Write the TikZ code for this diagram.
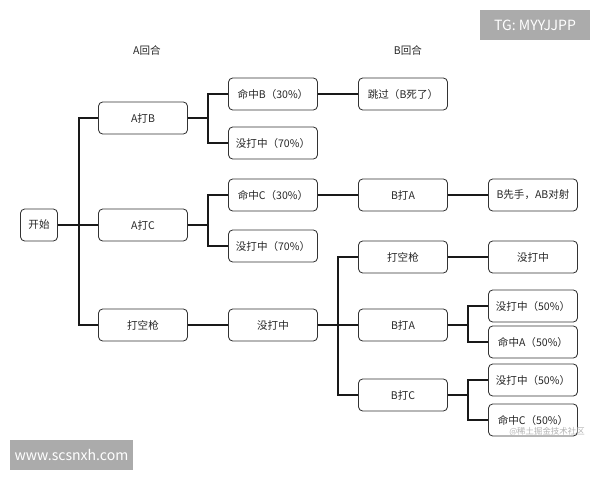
\documentclass[tikz,border=0pt]{standalone}
\usepackage{fontspec}
\setmainfont{Noto Sans CJK SC}
\usepackage{tikz}
\usetikzlibrary{positioning}
\tikzstyle{box}   = [rectangle, draw=black!80, line width=0.6pt, rounded corners=3pt, minimum width=2.225cm, minimum height=0.8cm, inner sep=0pt, text=black!85, font=\fontsize{7.5}{9}\selectfont]
\tikzstyle{link}  = [draw, line width=1.2pt, black!90]
\tikzstyle{round} = [font=\fontsize{7.5}{9}\selectfont, text=black!85]
\tikzstyle{wmbox} = [rectangle, fill=black!33, text=white, inner sep=0pt, font=\fontsize{10}{12}\selectfont]

\begin{document}
\begin{tikzpicture}[x=0.025cm, y=-0.025cm]
    \useasboundingbox (0,0) rectangle (600,480);

    % rounds
    \node[round] (roundA) at (147,50) {A回合};
    \node[round] (roundB) at (408,50) {B回合};

    % A's turn
    \node[box, minimum width=0.925cm] (start) at (39,225) {开始};
    \node[box] (AB)     at (143,118) {A打B};
    \node[box] (AC)     at (143,225) {A打C};
    \node[box] (Aempty) at (143,325) {打空枪};

    \node[box] (hitB)  at (273,94)  {命中B（30\%）};
    \node[box] (missB) at (273,143) {没打中（70\%）};
    \node[box] (hitC)  at (273,195) {命中C（30\%）};
    \node[box] (missC) at (273,246) {没打中（70\%）};
    \node[box] (miss)  at (273,325) {没打中};

    % B's turn
    \node[box] (skip)   at (403,94)  {跳过（B死了）};
    \node[box] (BA1)    at (403,195) {B打A};
    \node[box] (duel)   at (533,195) {B先手，AB对射};
    \node[box] (Bempty) at (403,257) {打空枪};
    \node[box] (Bmiss)  at (533,257) {没打中};
    \node[box] (BA2)    at (403,325) {B打A};
    \node[box] (BA2miss) at (533,306) {没打中（50\%）};
    \node[box] (BA2hit)  at (533,342) {命中A（50\%）};
    \node[box] (BC)     at (403,395) {B打C};
    \node[box] (BCmiss) at (533,380) {没打中（50\%）};
    \node[box] (BChit)  at (533,420) {命中C（50\%）};

    \path[link] (start.east) --++(21,0) |- (AB.west);
    \path[link] (start.east) -- (AC.west);
    \path[link] (start.east) --++(21,0) |- (Aempty.west);

    \path[link] (AB.east) --++(20,0) |- (hitB.west);
    \path[link] (AB.east) --++(20,0) |- (missB.west);
    \path[link] (AC.east) --++(20,0) |- (hitC.west);
    \path[link] (AC.east) --++(20,0) |- (missC.west);
    \path[link] (Aempty.east) -- (miss.west);

    \path[link] (hitB.east) -- (skip.west);
    \path[link] (hitC.east) -- (BA1.west);
    \path[link] (BA1.east)  -- (duel.west);

    \path[link] (miss.east) --++(20,0) |- (Bempty.west);
    \path[link] (miss.east) -- (BA2.west);
    \path[link] (miss.east) --++(20,0) |- (BC.west);
    \path[link] (Bempty.east) -- (Bmiss.west);

    \path[link] (BA2.east) --++(20,0) |- (BA2miss.west);
    \path[link] (BA2.east) --++(20,0) |- (BA2hit.west);
    \path[link] (BC.east)  --++(20,0) |- (BCmiss.west);
    \path[link] (BC.east)  --++(20,0) |- (BChit.west);

    % watermarks
    \node[wmbox, minimum width=2.75cm, minimum height=0.75cm] (tg) at (535,25) {TG: MYYJJPP};
    \node[wmbox, minimum width=3.075cm, minimum height=0.75cm] (site) at (71.5,455) {www.scsnxh.com};
    \node[text=black!30, font=\fontsize{6}{7}\selectfont] (juejin) at (547,432) {@稀土掘金技术社区};

\end{tikzpicture}
\end{document}
